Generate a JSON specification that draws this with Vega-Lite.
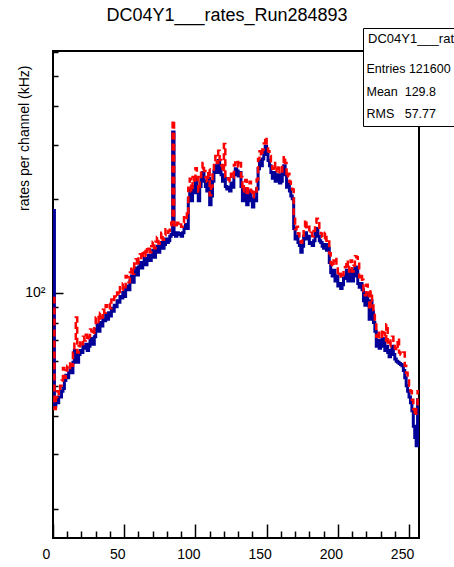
{
  "$schema": "https://vega.github.io/schema/vega-lite/v6.json",
  "width": 366,
  "height": 487,
  "autosize": "none",
  "padding": {"left": 53, "top": 51, "right": 35, "bottom": 29},
  "background": "white",
  "config": {
    "font": "Liberation Sans",
    "view": {"stroke": "black", "strokeWidth": 2}
  },
  "title": {
    "text": "DC04Y1___rates_Run284893",
    "fontSize": 18,
    "fontWeight": "normal",
    "font": "Liberation Sans",
    "color": "black",
    "anchor": "middle",
    "dx": -9,
    "offset": 3
  },
  "resolve": {"axis": {"x": "independent", "y": "independent"}},
  "datasets": {
    "h": [
      {"bin":0,"blue":184,"red":96},{"bin":1,"blue":43,"red":42},{"bin":2,"blue":45,"red":46},{"bin":3,"blue":44,"red":48},{"bin":4,"blue":46,"red":47},
      {"bin":5,"blue":46,"red":50},{"bin":6,"blue":48,"red":52},{"bin":7,"blue":49,"red":57},{"bin":8,"blue":52,"red":53},{"bin":9,"blue":54,"red":56},
      {"bin":10,"blue":53,"red":58},{"bin":11,"blue":55,"red":57},{"bin":12,"blue":57,"red":60},{"bin":13,"blue":55,"red":58},{"bin":14,"blue":59.5,"red":64},
      {"bin":15,"blue":65,"red":70},{"bin":16,"blue":61,"red":83},{"bin":17,"blue":59.5,"red":64},{"bin":18,"blue":63,"red":67},{"bin":19,"blue":65,"red":70},
      {"bin":20,"blue":64,"red":68},{"bin":21,"blue":67,"red":72},{"bin":22,"blue":66,"red":70},{"bin":23,"blue":68,"red":73},{"bin":24,"blue":65,"red":70},
      {"bin":25,"blue":67,"red":72},{"bin":26,"blue":70,"red":76},{"bin":27,"blue":71,"red":75},{"bin":28,"blue":68,"red":73},{"bin":29,"blue":72,"red":78},
      {"bin":30,"blue":76,"red":83},{"bin":31,"blue":79,"red":84},{"bin":32,"blue":75,"red":80},{"bin":33,"blue":80,"red":86},{"bin":34,"blue":78,"red":83},
      {"bin":35,"blue":82,"red":88},{"bin":36,"blue":81,"red":86},{"bin":37,"blue":85,"red":91},{"bin":38,"blue":82,"red":90},{"bin":39,"blue":86,"red":92},
      {"bin":40,"blue":84,"red":89},{"bin":41,"blue":89,"red":95},{"bin":42,"blue":87,"red":93},{"bin":43,"blue":91,"red":97},{"bin":44,"blue":90,"red":96},
      {"bin":45,"blue":94,"red":100},{"bin":46,"blue":93,"red":98},{"bin":47,"blue":97,"red":104},{"bin":48,"blue":96,"red":102},{"bin":49,"blue":100,"red":107},
      {"bin":50,"blue":97,"red":104},{"bin":51,"blue":103,"red":113},{"bin":52,"blue":105,"red":112},{"bin":53,"blue":102,"red":108},{"bin":54,"blue":109,"red":116},
      {"bin":55,"blue":113,"red":121},{"bin":56,"blue":108,"red":115},{"bin":57,"blue":116,"red":124},{"bin":58,"blue":120,"red":128},{"bin":59,"blue":114,"red":122},
      {"bin":60,"blue":121,"red":130},{"bin":61,"blue":125,"red":133},{"bin":62,"blue":120,"red":128},{"bin":63,"blue":125,"red":134},{"bin":64,"blue":129,"red":138},
      {"bin":65,"blue":123,"red":131},{"bin":66,"blue":129,"red":138},{"bin":67,"blue":132,"red":141},{"bin":68,"blue":127,"red":135},{"bin":69,"blue":132,"red":141},
      {"bin":70,"blue":137,"red":146},{"bin":71,"blue":130,"red":139},{"bin":72,"blue":137,"red":146},{"bin":73,"blue":141,"red":151},{"bin":74,"blue":135,"red":144},
      {"bin":75,"blue":141,"red":150},{"bin":76,"blue":145,"red":156},{"bin":77,"blue":139,"red":148},{"bin":78,"blue":143,"red":153},{"bin":79,"blue":149,"red":160},
      {"bin":80,"blue":145,"red":156},{"bin":81,"blue":147,"red":158},{"bin":82,"blue":152,"red":165},{"bin":83,"blue":154,"red":168},{"bin":84,"blue":330,"red":360},
      {"bin":85,"blue":154,"red":165},{"bin":86,"blue":152,"red":162},{"bin":87,"blue":156,"red":168},{"bin":88,"blue":154,"red":164},{"bin":89,"blue":155,"red":166},
      {"bin":90,"blue":152,"red":163},{"bin":91,"blue":156,"red":168},{"bin":92,"blue":161,"red":175},{"bin":93,"blue":166,"red":180},{"bin":94,"blue":161,"red":174},
      {"bin":95,"blue":201,"red":218},{"bin":96,"blue":216,"red":233},{"bin":97,"blue":198,"red":212},{"bin":98,"blue":220,"red":236},{"bin":99,"blue":210,"red":226},
      {"bin":100,"blue":234,"red":252},{"bin":101,"blue":220,"red":236},{"bin":102,"blue":198,"red":212},{"bin":103,"blue":220,"red":236},{"bin":104,"blue":234,"red":252},
      {"bin":105,"blue":244,"red":262},{"bin":106,"blue":229,"red":247},{"bin":107,"blue":220,"red":236},{"bin":108,"blue":213,"red":228},{"bin":109,"blue":234,"red":250},
      {"bin":110,"blue":192,"red":206},{"bin":111,"blue":205,"red":220},{"bin":112,"blue":229,"red":246},{"bin":113,"blue":247,"red":265},{"bin":114,"blue":257,"red":276},
      {"bin":115,"blue":244,"red":262},{"bin":116,"blue":267,"red":287},{"bin":117,"blue":251,"red":268},{"bin":118,"blue":240,"red":258},{"bin":119,"blue":229,"red":245},
      {"bin":120,"blue":234,"red":302},{"bin":121,"blue":220,"red":236},{"bin":122,"blue":216,"red":232},{"bin":123,"blue":219,"red":234},{"bin":124,"blue":213,"red":229},
      {"bin":125,"blue":226,"red":242},{"bin":126,"blue":219,"red":235},{"bin":127,"blue":240,"red":258},{"bin":128,"blue":251,"red":268},{"bin":129,"blue":247,"red":264},
      {"bin":130,"blue":238,"red":255},{"bin":131,"blue":244,"red":262},{"bin":132,"blue":220,"red":236},{"bin":133,"blue":198,"red":212},{"bin":134,"blue":213,"red":229},
      {"bin":135,"blue":216,"red":231},{"bin":136,"blue":192,"red":206},{"bin":137,"blue":205,"red":220},{"bin":138,"blue":213,"red":228},{"bin":139,"blue":198,"red":212},
      {"bin":140,"blue":189,"red":203},{"bin":141,"blue":201,"red":215},{"bin":142,"blue":198,"red":212},{"bin":143,"blue":216,"red":232},{"bin":144,"blue":251,"red":270},
      {"bin":145,"blue":267,"red":286},{"bin":146,"blue":257,"red":276},{"bin":147,"blue":270,"red":290},{"bin":148,"blue":283,"red":303},{"bin":149,"blue":297,"red":318},
      {"bin":150,"blue":279,"red":300},{"bin":151,"blue":267,"red":286},{"bin":152,"blue":257,"red":276},{"bin":153,"blue":244,"red":262},{"bin":154,"blue":234,"red":251},
      {"bin":155,"blue":244,"red":262},{"bin":156,"blue":229,"red":246},{"bin":157,"blue":234,"red":251},{"bin":158,"blue":240,"red":258},{"bin":159,"blue":226,"red":242},
      {"bin":160,"blue":229,"red":246},{"bin":161,"blue":244,"red":262},{"bin":162,"blue":257,"red":276},{"bin":163,"blue":240,"red":262},{"bin":164,"blue":219,"red":235},
      {"bin":165,"blue":226,"red":242},{"bin":166,"blue":213,"red":228},{"bin":167,"blue":205,"red":220},{"bin":168,"blue":201,"red":215},{"bin":169,"blue":161,"red":173},
      {"bin":170,"blue":149,"red":160},{"bin":171,"blue":152,"red":163},{"bin":172,"blue":145,"red":155},{"bin":173,"blue":142,"red":152},{"bin":174,"blue":135,"red":145},
      {"bin":175,"blue":141,"red":151},{"bin":176,"blue":152,"red":163},{"bin":177,"blue":156,"red":172},{"bin":178,"blue":149,"red":160},{"bin":179,"blue":152,"red":163},
      {"bin":180,"blue":144,"red":155},{"bin":181,"blue":145,"red":156},{"bin":182,"blue":142,"red":152},{"bin":183,"blue":147,"red":158},{"bin":184,"blue":156,"red":168},
      {"bin":185,"blue":161,"red":173},{"bin":186,"blue":152,"red":172},{"bin":187,"blue":147,"red":158},{"bin":188,"blue":145,"red":155},{"bin":189,"blue":141,"red":151},
      {"bin":190,"blue":139,"red":149},{"bin":191,"blue":143,"red":156},{"bin":192,"blue":137,"red":147},{"bin":193,"blue":139,"red":149},{"bin":194,"blue":125,"red":134},
      {"bin":195,"blue":116,"red":124},{"bin":196,"blue":113,"red":121},{"bin":197,"blue":118,"red":127},{"bin":198,"blue":109,"red":130},{"bin":199,"blue":113,"red":121},
      {"bin":200,"blue":105,"red":113},{"bin":201,"blue":107,"red":115},{"bin":202,"blue":103,"red":111},{"bin":203,"blue":106,"red":114},{"bin":204,"blue":111,"red":119},
      {"bin":205,"blue":113,"red":121},{"bin":206,"blue":118,"red":127},{"bin":207,"blue":109,"red":117},{"bin":208,"blue":113,"red":121},{"bin":209,"blue":118,"red":127},
      {"bin":210,"blue":109,"red":117},{"bin":211,"blue":113,"red":122},{"bin":212,"blue":121,"red":131},{"bin":213,"blue":120,"red":130},{"bin":214,"blue":107,"red":125},
      {"bin":215,"blue":104,"red":112},{"bin":216,"blue":107,"red":115},{"bin":217,"blue":102,"red":110},{"bin":218,"blue":94,"red":101},{"bin":219,"blue":91,"red":98},
      {"bin":220,"blue":99,"red":106},{"bin":221,"blue":93,"red":100},{"bin":222,"blue":82,"red":88},{"bin":223,"blue":94,"red":101},{"bin":224,"blue":87,"red":94},
      {"bin":225,"blue":80,"red":86},{"bin":226,"blue":75,"red":81},{"bin":227,"blue":67,"red":72},{"bin":228,"blue":70,"red":75},{"bin":229,"blue":66,"red":71},
      {"bin":230,"blue":67,"red":72},{"bin":231,"blue":71,"red":76},{"bin":232,"blue":69,"red":74},{"bin":233,"blue":65,"red":70},{"bin":234,"blue":67,"red":79},
      {"bin":235,"blue":64,"red":69},{"bin":236,"blue":62,"red":67},{"bin":237,"blue":65,"red":70},{"bin":238,"blue":67,"red":72},{"bin":239,"blue":63,"red":68},
      {"bin":240,"blue":61,"red":66},{"bin":241,"blue":60,"red":65},{"bin":242,"blue":59.5,"red":71},{"bin":243,"blue":59,"red":64},{"bin":244,"blue":58.5,"red":63},
      {"bin":245,"blue":58,"red":63},{"bin":246,"blue":56,"red":64},{"bin":247,"blue":53,"red":58},{"bin":248,"blue":50,"red":55},{"bin":249,"blue":48,"red":52},
      {"bin":250,"blue":46,"red":50},{"bin":251,"blue":44,"red":48},{"bin":252,"blue":41.5,"red":45},{"bin":253,"blue":37,"red":42},{"bin":254,"blue":34,"red":40},
      {"bin":255,"blue":32,"red":43},{"bin":256,"blue":45,"red":48},{"bin":257,"blue":45,"red":48}
    ],
    "stats": [
      {"text": "Entries\u00a0121600"},
      {"text": "Mean\u00a0\u00a0129.8"},
      {"text": "RMS\u00a0\u00a0\u00a057.77"}
    ]
  },
  "layer": [
    {
      "data": {"name": "h"},
      "mark": {"type": "line", "interpolate": "step-after", "color": "#000099", "strokeWidth": 3, "clip": true},
      "encoding": {
        "x": {
          "field": "bin", "type": "quantitative",
          "scale": {"domain": [0, 257], "nice": false, "zero": false},
          "axis": {
            "orient": "bottom",
            "values": [10,20,30,40,60,70,80,90,110,120,130,140,160,170,180,190,210,220,230,240],
            "labels": false, "tickSize": -7,
            "tickColor": "black", "tickWidth": 1.5,
            "domain": false, "grid": false, "title": null
          }
        },
        "y": {
          "field": "blue", "type": "quantitative",
          "scale": {"type": "log", "domain": [16.1, 603], "nice": false},
          "axis": {
            "orient": "left",
            "values": [20,30,40,50,60,70,80,90,200,300,400,500,600],
            "labels": false, "tickSize": -5,
            "tickColor": "black", "tickWidth": 1.5,
            "domain": false, "grid": false,
            "title": "rates per channel (kHz)",
            "titleFontSize": 14, "titleFontWeight": "normal", "titleColor": "black", "titleFont": "Liberation Sans",
            "titleAnchor": "end", "titleX": -25, "titleY": 14, "titleAlign": "right", "titleAngle": -90, "titleBaseline": "alphabetic"
          }
        }
      }
    },
    {
      "data": {"name": "h"},
      "mark": {"type": "line", "interpolate": "step-after", "color": "#ff0000", "strokeWidth": 2.5, "strokeDash": [7, 4], "clip": true},
      "encoding": {
        "x": {
          "field": "bin", "type": "quantitative",
          "axis": {
            "orient": "bottom",
            "values": [0, 50, 100, 150, 200, 250],
            "tickSize": -14, "tickColor": "black", "tickWidth": 1.5,
            "domain": false, "grid": false, "title": null,
            "labelFontSize": 14, "labelColor": "black", "labelFont": "Liberation Sans",
            "labelPadding": 23, "labelOffset": -7, "labelOverlap": false, "labelFlush": false
          }
        },
        "y": {
          "field": "red", "type": "quantitative",
          "axis": {
            "orient": "left",
            "values": [100],
            "labelExpr": "'10²'",
            "tickSize": -10, "tickColor": "black", "tickWidth": 1.5,
            "domain": false, "grid": false, "title": null,
            "labelFontSize": 14, "labelColor": "black", "labelFont": "Liberation Sans",
            "labelPadding": 18, "labelOverlap": false, "labelFlush": false
          }
        }
      }
    },
    {
      "data": {"name": "stats"},
      "mark": {"type": "point", "opacity": 0},
      "encoding": {
        "color": {
          "field": "text", "type": "nominal", "sort": null,
          "scale": {"range": ["white"]},
          "legend": {
            "orient": "none", "legendX": 310, "legendY": -23,
            "title": "DC04Y1___rates_Run284893",
            "titleFontSize": 13, "titleFontWeight": "normal", "titleFont": "Liberation Sans", "titleColor": "black", "titleLimit": 400,
            "titlePadding": 17,
            "labelFontSize": 12.5, "labelFont": "Liberation Sans", "labelColor": "black", "labelLimit": 400,
            "labelOffset": -14, "symbolSize": 0, "symbolStrokeWidth": 0,
            "rowPadding": 9.5, "padding": 5,
            "strokeColor": "black", "fillColor": "white"
          }
        }
      }
    }
  ]
}
